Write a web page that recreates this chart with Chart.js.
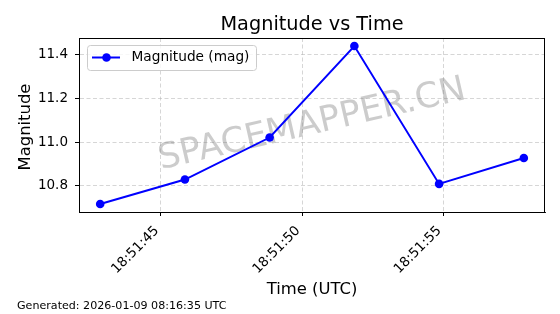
<!DOCTYPE html>
<html><head><meta charset="utf-8">
<script src="https://cdn.jsdelivr.net/npm/chart.js@4"></script>
<style>html,body{margin:0;padding:0;background:#fff}#wrap{width:560px;height:314px;position:relative}</style>
</head><body><div id="wrap"><canvas id="c" width="560" height="314"></canvas></div>
<script>
// ---- data ----
const baseTime = '18:51';
const seconds = [42.85, 45.85, 48.85, 51.85, 54.85, 57.85];
const magnitudes = [10.716, 10.828, 11.021, 11.441, 10.808, 10.927];
const xTickSeconds = [45, 50, 55];
const yTickValues = [10.8, 11.0, 11.2, 11.4];
const seriesLabel = 'Magnitude (mag)';
const titleText = 'Magnitude vs Time';
const xTitleText = 'Time (UTC)';
const yTitleText = 'Magnitude';
const footerText = 'Generated: 2026-01-09 08:16:35 UTC';
const watermarkText = 'SPACEMAPPER.CN';

const FONT = '"DejaVu Sans", sans-serif';
const BLUE = '#0000ff';

function fmtTime(s) {
  const ss = Math.floor(s);
  return baseTime + ':' + String(ss).padStart(2, '0');
}

const decor = {
  id: 'decor',
  beforeDatasetsDraw(chart) {
    const ctx = chart.ctx, a = chart.chartArea;
    ctx.save();
    ctx.translate((a.left + a.right) / 2, (a.top + a.bottom) / 2);
    ctx.rotate(-13 * Math.PI / 180);
    ctx.font = '35px ' + FONT;
    ctx.fillStyle = 'rgba(128,128,128,0.4)';
    ctx.textAlign = 'center';
    ctx.textBaseline = 'middle';
    ctx.fillText(watermarkText, 0, 0);
    ctx.restore();
  },
  afterDraw(chart) {
    const ctx = chart.ctx, a = chart.chartArea;
    ctx.save();
    // frame
    ctx.strokeStyle = '#000';
    ctx.lineWidth = 1;
    ctx.setLineDash([]);
    ctx.strokeRect(Math.round(a.left) + 0.5, Math.round(a.top) + 0.5, Math.round(a.right - a.left) - 1, Math.round(a.bottom - a.top));
    // title
    ctx.fillStyle = '#000';
    ctx.textAlign = 'center';
    ctx.textBaseline = 'alphabetic';
    ctx.font = '19.3px ' + FONT;
    ctx.fillText(titleText, (a.left + a.right) / 2, 30);
    // x title
    ctx.font = '16.4px ' + FONT;
    ctx.fillText(xTitleText, (a.left + a.right) / 2, 294);
    // y title
    ctx.save();
    ctx.translate(29.5, (a.top + a.bottom) / 2 + 2);
    ctx.rotate(-Math.PI / 2);
    ctx.fillText(yTitleText, 0, 0);
    ctx.restore();
    // footer
    ctx.textAlign = 'left';
    ctx.font = '11.1px ' + FONT;
    ctx.fillText(footerText, 17, 309);
    // legend
    const lx = 87, ly = 45, lw = 169, lh = 25;
    ctx.beginPath();
    ctx.roundRect(lx + 0.5, ly + 0.5, lw, lh, 3);
    ctx.fillStyle = 'rgba(255,255,255,0.8)';
    ctx.fill();
    ctx.strokeStyle = '#cccccc';
    ctx.lineWidth = 1;
    ctx.stroke();
    const my = ly + lh / 2;
    ctx.beginPath();
    ctx.moveTo(92, my); ctx.lineTo(120, my);
    ctx.strokeStyle = BLUE; ctx.lineWidth = 2; ctx.stroke();
    ctx.beginPath();
    ctx.arc(106.5, my, 4.3, 0, Math.PI * 2);
    ctx.fillStyle = BLUE; ctx.fill();
    ctx.fillStyle = '#000';
    ctx.font = '13.7px ' + FONT;
    ctx.textBaseline = 'middle';
    ctx.fillText(seriesLabel, 131.5, my);
    ctx.restore();
  }
};

const gridCommon = {
  color: 'rgba(176,176,176,0.65)',
  lineWidth: 0.8,
  tickColor: '#000',
  tickLength: 4,
  tickWidth: 1,
  tickBorderDash: []
};
const borderCommon = { display: true, color: '#000', width: 1, dash: [4, 2.5] };

new Chart(document.getElementById('c'), {
  type: 'line',
  data: {
    datasets: [{
      label: seriesLabel,
      data: seconds.map((s, i) => ({ x: s, y: magnitudes[i] })),
      borderColor: BLUE,
      backgroundColor: BLUE,
      borderWidth: 2,
      pointRadius: 4.3,
      pointHoverRadius: 4.3,
      pointBackgroundColor: BLUE,
      pointBorderWidth: 0,
      tension: 0,
      fill: false
    }]
  },
  options: {
    responsive: false,
    devicePixelRatio: 1,
    animation: false,
    events: [],
    layout: { padding: { top: 38, right: 15, left: 0, bottom: 0 } },
    plugins: { legend: { display: false }, title: { display: false }, tooltip: { enabled: false } },
    scales: {
      x: {
        type: 'linear',
        min: 42.1,
        max: 58.6,
        afterBuildTicks: s => { s.ticks = xTickSeconds.map(v => ({ value: v })); },
        afterFit: s => { s.height = 102; },
        ticks: {
          autoSkip: false,
          maxRotation: 45,
          minRotation: 45,
          padding: 7,
          labelOffset: -4,
          color: '#000',
          font: { family: FONT, size: 13.5 },
          callback: v => fmtTime(v)
        },
        grid: gridCommon,
        border: borderCommon
      },
      y: {
        type: 'linear',
        min: 10.679,
        max: 11.478,
        afterBuildTicks: s => { s.ticks = yTickValues.map(v => ({ value: v })); },
        afterFit: s => { s.width = 79; },
        ticks: {
          padding: 7,
          color: '#000',
          font: { family: FONT, size: 13.5 },
          callback: v => v.toFixed(1)
        },
        grid: gridCommon,
        border: borderCommon
      }
    }
  },
  plugins: [decor]
});
</script>
</body></html>
